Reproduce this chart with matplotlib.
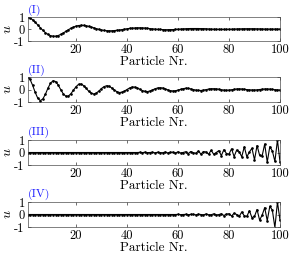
import numpy as np
import matplotlib
matplotlib.use("Agg")
import matplotlib.pyplot as plt

# ==========================
# Data
# ==========================
particle = list(range(1, 101))

u_mode1 = [
    1.00, 0.91, 0.77, 0.57, 0.34, 0.11, -0.11, -0.30, -0.45, -0.55,
    -0.60, -0.60, -0.55, -0.45, -0.33, -0.20, -0.06, 0.06, 0.16, 0.24,
    0.29, 0.31, 0.30, 0.27, 0.22, 0.16, 0.10, 0.03, -0.03, -0.08,
    -0.12, -0.14, -0.15, -0.15, -0.13, -0.11, -0.09, -0.05, -0.02, 0.02,
    0.05, 0.07, 0.08, 0.10, 0.10, 0.09, 0.08, 0.06, 0.03, 0.01,
    -0.01, -0.03, -0.04, -0.05, -0.06, -0.06, -0.05, -0.05, -0.03, -0.02,
    -0.01, 0.01, 0.02, 0.03, 0.04, 0.04, 0.04, 0.04, 0.03, 0.03,
    0.02, 0.00, -0.01, -0.02, -0.02, -0.03, -0.03, -0.03, -0.03, -0.02,
    -0.02, -0.01, 0.00, 0.01, 0.01, 0.02, 0.02, 0.02, 0.02, 0.02,
    0.01, 0.01, 0.00, -0.01, -0.01, -0.01, -0.01, -0.01, -0.01, 0.00,
]

u_mode2 = [
    1.00, 0.81, 0.34, -0.22, -0.69, -0.89, -0.76, -0.39, 0.10, 0.50,
    0.70, 0.64, 0.37, 0.00, -0.34, -0.53, -0.53, -0.34, -0.06, 0.22,
    0.41, 0.44, 0.31, 0.10, -0.14, -0.30, -0.36, -0.28, -0.12, 0.08,
    0.23, 0.30, 0.26, 0.13, -0.03, -0.17, -0.24, -0.22, -0.13, 0.00,
    0.12, 0.20, 0.19, 0.13, 0.02, -0.08, -0.15, -0.17, -0.12, -0.04,
    0.06, 0.12, 0.14, 0.12, 0.05, -0.03, -0.09, -0.12, -0.10, -0.05,
    0.01, 0.07, 0.10, 0.09, 0.05, 0.00, -0.05, -0.07, -0.08, -0.05,
    -0.01, 0.03, 0.06, 0.06, 0.05, 0.02, -0.02, -0.05, -0.06, -0.05,
    -0.02, 0.01, 0.04, 0.05, 0.04, 0.02, -0.01, -0.03, -0.04, -0.04,
    -0.03, 0.00, 0.02, 0.04, 0.04, 0.03, 0.01, -0.02, -0.03, -0.04,
]

u_mode3 = [0.0] * 44 + [
    0.01, -0.01, 0.02, -0.01, 0.00, 0.02,
    -0.03, 0.02, -0.01, -0.02, 0.04, -0.04, 0.02, 0.02, -0.05, 0.06,
    -0.04, 0.00, 0.06, -0.09, 0.08, -0.02, -0.06, 0.12, -0.13, 0.07,
    0.04, -0.14, 0.18, -0.14, 0.00, 0.15, -0.25, 0.23, -0.08, -0.13,
    0.30, -0.33, 0.19, 0.07, -0.34, 0.46, -0.35, 0.04, 0.34, -0.59,
    0.56, -0.22, -0.27, 0.68, -0.77, 0.47, 0.12, -0.71, 1.00, -0.75,
]

u_mode4 = [0.0] * 59 + [
    0.01, -0.01, 0.00, 0.01, -0.02, 0.01, 0.01, -0.03, 0.02, 0.00,
    -0.03, 0.04, -0.02, -0.02, 0.05, -0.04, -0.01, 0.06, -0.08, 0.03,
    0.06, -0.12, 0.10, 0.00, -0.15, 0.20, -0.10, -0.15, 0.30, -0.25,
    -0.15, 0.40, -0.45, -0.05, 0.55, -0.50, 0.65, 0.35, -1.05, 1.00,
    -0.45,
]

labels = ["(I)", "(II)", "(III)", "(IV)"]
modes = [u_mode1, u_mode2, u_mode3, u_mode4]

# ==========================
# Style
# ==========================
plt.rcParams["font.family"] = ["cmr10", "DejaVu Serif"]
plt.rcParams["mathtext.fontset"] = "cm"
plt.rcParams["axes.unicode_minus"] = False
plt.rcParams["font.size"] = 9

fig = plt.figure(figsize=(2.91, 2.58), dpi=100)

W, H = 291.0, 258.0
left, right = 27.5, 280.0
tops = [17, 77, 140, 202]
bots = [41, 102, 165, 227]

for lab, u, t, b in zip(labels, modes, tops, bots):
    ax = fig.add_axes([left / W, 1 - b / H, (right - left) / W, (b - t) / H])
    ax.plot(particle, u, color="black", linewidth=0.8,
            marker=".", markersize=1.8)
    ax.set_xlim(1, 100)
    ax.set_ylim(-1, 1)
    ax.set_xticks([20, 40, 60, 80, 100])
    ax.set_yticks([-1, 0, 1])
    ax.tick_params(direction="in", length=2, width=0.4, top=True, right=True,
                   pad=2, labelsize=9)
    for s in ax.spines.values():
        s.set_linewidth(0.5)
        s.set_color("0.3")
    ax.set_xlabel("Particle Nr.", fontsize=9.5, labelpad=0)
    ax.set_ylabel(r"$u$", fontsize=10)
    ax.yaxis.set_label_coords(-0.052, 0.5)
    ax.text(0.0, 1.06, lab, transform=ax.transAxes, color="#2020ff",
            fontsize=8.5, ha="left", va="bottom")

fig.savefig("out.png", dpi=100)
